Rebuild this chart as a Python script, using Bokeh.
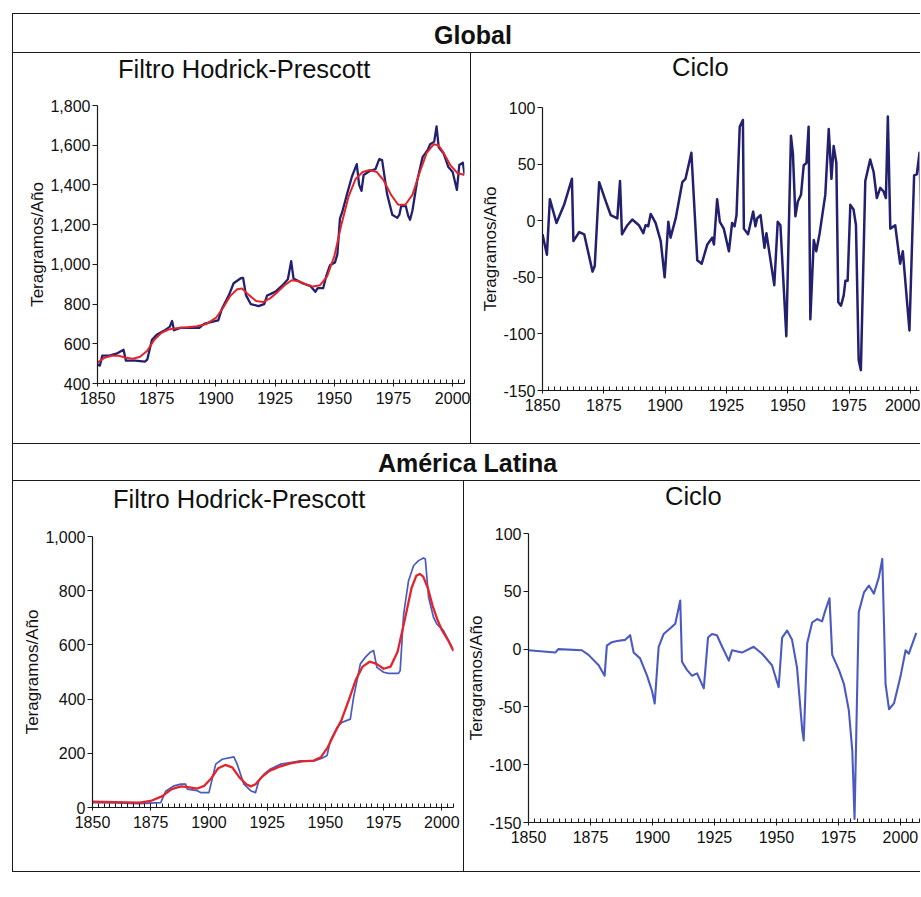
from bokeh.plotting import figure
from bokeh.models import Div, FixedTicker, NumeralTickFormatter, Range1d
from bokeh.layouts import column, row
from bokeh.embed import file_html
from bokeh.resources import INLINE

FONT = "Liberation Sans"

# ---------------- data ----------------
# Global, Hodrick-Prescott: observed series
gl_obs_year = [1850, 1851, 1852, 1855, 1858, 1861, 1862, 1866, 1870, 1871, 1873, 1875, 1878,
               1880.5, 1881.5, 1882.3, 1885, 1890, 1893, 1895, 1900, 1901, 1902.5, 1905.5,
               1907.5, 1910.5, 1911.5, 1912.7, 1914.7, 1918, 1920.4, 1921.6, 1923, 1925.4,
               1928.2, 1930.4, 1931.8, 1932.8, 1935, 1936.5, 1940, 1942, 1943, 1945.3, 1946.7,
               1948.2, 1950.3, 1951.3, 1952.4, 1953.4, 1955.3, 1957.4, 1959.5, 1960.5, 1961.5,
               1962.4, 1965, 1967.4, 1969, 1970.2, 1972.3, 1974.5, 1976.6, 1977.5, 1978.3,
               1980.2, 1981.2, 1982, 1983, 1985, 1987.3, 1989.4, 1990.5, 1992.2, 1993.2, 1994.1,
               1996.2, 1998.2, 2000, 2001.8, 2002.8, 2004.3, 2005]
gl_obs_val = [495, 490, 540, 540, 550, 570, 515, 515, 510, 520, 620, 645, 665,
              685, 715, 668, 680, 680, 680, 700, 715, 718, 775, 845,
              905, 930, 932, 845, 800, 790, 800, 843, 850, 865,
              895, 925, 1016, 928, 915, 905, 890, 862, 880, 880, 945,
              996, 1010, 1050, 1230, 1265, 1350, 1440, 1505, 1400, 1370,
              1450, 1470, 1480, 1530, 1525, 1355, 1250, 1234, 1250, 1295,
              1294, 1245, 1225, 1270, 1420, 1540, 1575, 1605, 1618, 1695, 1590,
              1558, 1490, 1465, 1375, 1500, 1512, 1455]
# Global, Hodrick-Prescott: trend
gl_trend_year = [1850, 1853, 1856, 1859, 1862, 1865, 1868, 1871, 1874, 1877, 1880, 1884, 1888,
                 1892, 1896, 1900, 1903, 1906, 1909, 1911, 1914, 1917, 1920, 1923, 1926, 1929,
                 1932, 1935, 1938, 1941, 1944, 1947, 1950, 1953, 1956, 1959, 1962, 1965, 1968,
                 1971, 1974, 1977, 1980, 1983, 1986, 1989, 1992, 1994, 1996, 1999, 2002, 2005]
gl_trend_val = [505, 530, 540, 540, 530, 525, 535, 565, 620, 655, 672, 680, 683,
                688, 700, 730, 780, 840, 875, 878, 845, 815, 810, 830, 860, 895,
                920, 915, 900, 888, 895, 940, 1040, 1200, 1340, 1430, 1465, 1475, 1465,
                1420, 1350, 1300, 1300, 1350, 1460, 1560, 1605, 1600, 1565, 1500, 1460, 1450]
# Global, cycle
gl_cyc_year = [1850, 1851.8, 1853, 1855.7, 1858.8, 1862, 1862.6, 1865, 1867, 1870.4, 1871.3,
               1873.1, 1875.8, 1877.8, 1880.5, 1881.6, 1882.4, 1884.6, 1886.6, 1889.3, 1891.1,
               1892, 1893.1, 1894.1, 1896.1, 1898.2, 1899.8, 1901.3, 1902.2, 1904.3, 1907,
               1908.3, 1910.7, 1913.1, 1914.9, 1917.2, 1919.2, 1919.9, 1921.2, 1922.3, 1923.9,
               1926, 1927.3, 1928.3, 1929.1, 1930.4, 1931.7, 1932.1, 1933.8, 1935.9, 1936.8,
               1937.5, 1938.9, 1940.5, 1941.3, 1942.2, 1944.5, 1945.9, 1947, 1949.4, 1951.3,
               1952.1, 1953.1, 1954.1, 1955.4, 1956.5, 1957.6, 1958.5, 1959.2, 1960.6, 1961.6,
               1963, 1965.3, 1966.7, 1967.8, 1968.7, 1969.8, 1970.6, 1971.7, 1972.8, 1973.5,
               1974.4, 1975.5, 1976.8, 1977.8, 1978.9, 1979.8, 1981.6, 1983.6, 1985, 1986.3,
               1987.7, 1989, 1990, 1990.8, 1991.8, 1993.8, 1995.8, 1996.9, 1999.6, 2001.5,
               2002.6, 2003.7, 2004.4]
gl_cyc_val = [-12, -30, 19, -2, 14, 37, -18, -10, -12, -45, -40,
              34, 17, 5, 2, 35, -12, -4, 1, -4, -11,
              -4, -5, 6, -2, -18, -50, -1, -15, 2, 34,
              37, 60, -35, -38, -21, -15, -21, 19, -1, -7,
              -27, -2, -5, 5, 83, 89, -7, -12, 8, -5,
              2, 5, -24, -11, -24, -57, -1, -4, -102, 75,
              59, 4, 17, 23, 49, 51, 83, -87, -17, -27,
              -11, 23, 81, 37, 66, 51, -72, -75, -66, -53,
              -53, 14, 10, -4, -123, -132, 35, 54, 43, 20,
              29, 26, 20, 92, -7, -4, -38, -27, -97, 40,
              41, 60, -4]
# América Latina, Hodrick-Prescott: observed series
la_obs_year = [1850, 1860, 1870, 1879.3, 1881.4, 1885, 1887.9, 1890, 1890.7, 1895, 1896.4, 1900,
               1902.9, 1905.7, 1910.7, 1912.1, 1915, 1917.9, 1920, 1921.4, 1923.6, 1926.4,
               1930.7, 1935, 1939.3, 1945, 1948.6, 1950.7, 1952.1, 1955, 1957.1, 1960.7, 1962.1,
               1965, 1967.1, 1969.3, 1970.7, 1972.1, 1975, 1977.1, 1981.4, 1982.1, 1983.6,
               1985.7, 1987.9, 1990, 1992.1, 1992.9, 1994.3, 1996.4, 1997.9, 2000.7, 2002.9, 2005]
la_obs_val = [18, 17, 14, 18, 60, 80, 86, 86, 68, 62, 55, 55,
              160, 178, 187, 160, 86, 62, 55, 98, 123, 142,
              160, 166, 172, 172, 182, 192, 246, 296, 314, 326, 406,
              530, 554, 573, 579, 517, 499, 495, 495, 505, 714,
              837, 893, 911, 921, 917, 776, 702, 677, 653, 616, 579]
# América Latina, Hodrick-Prescott: trend
la_trend_year = [1850, 1860, 1870, 1875, 1880, 1884, 1888, 1891, 1895, 1898, 1901, 1904, 1907,
                 1910, 1913, 1916, 1918, 1920, 1923, 1926, 1930, 1935, 1940, 1945, 1948, 1951,
                 1954, 1957, 1960, 1963, 1966, 1969, 1972, 1975, 1978, 1981, 1984, 1987, 1989,
                 1990.5, 1992, 1994, 1996, 1998, 2000, 2003, 2005]
la_trend_val = [22, 20, 18, 24, 42, 68, 78, 75, 70, 80, 108, 145, 157,
                148, 112, 86, 78, 86, 115, 135, 150, 163, 170, 173, 185, 222,
                275, 325, 395, 470, 520, 538, 530, 512, 520, 575, 690, 810, 855,
                862, 852, 810, 745, 695, 655, 612, 578]
# América Latina, cycle
la_cyc_year = [1850, 1860.8, 1862, 1871.5, 1874.2, 1878.3, 1880.7, 1881.6, 1883.6, 1885.7, 1889,
               1891, 1892.4, 1895, 1897.8, 1899.8, 1900.9, 1902.5, 1904.5, 1907.2, 1909.2,
               1911.2, 1911.9, 1913.9, 1915.9, 1918, 1920.7, 1922.4, 1924, 1926, 1928.1, 1930.8,
               1932.1, 1936.1, 1940.8, 1944.2, 1948.2, 1950.9, 1952.3, 1954.3, 1956.3, 1958.3,
               1960.4, 1961, 1962.4, 1964.4, 1966.4, 1968.4, 1969.8, 1971.4, 1972.5, 1975.2,
               1977.2, 1979.2, 1980.6, 1981.5, 1983.2, 1985.3, 1987.3, 1989.3, 1991.3, 1992.7,
               1994, 1995.4, 1997.4, 2000, 2002.1, 2003.4, 2006.4]
la_cyc_val = [-1, -3, 0, -1, -5, -14, -23, 3, 6, 7, 8,
              12, -3, -8, -23, -36, -47, 2, 13, 18, 22,
              42, -11, -18, -23, -21, -34, 10, 13, 12, 2, -10,
              -1, -3, 2, -4, -14, -33, 10, 16, 8, -16,
              -70, -79, 5, 23, 26, 24, 34, 44, -5, -18,
              -30, -53, -88, -147, 32, 49, 55, 48, 62, 78,
              -30, -52, -47, -24, -1, -4, 14]

x_major_ticks = [1850, 1875, 1900, 1925, 1950, 1975, 2000]
x_minor_ticks = [1850 + 2.5 * i for i in range(64)]
gl_hp_ticks = [400, 600, 800, 1000, 1200, 1400, 1600, 1800]
la_hp_ticks = [0, 200, 400, 600, 800, 1000]
cyc_ticks = [-150, -100, -50, 0, 50, 100]

GL_BLUE = "#22206f"
LA_BLUE = "#4b5ac2"
RED = "#e1252b"
BORDER = "#1a1a1a"
TITLE_H = 30


def panel(w, h, xr, yr, yticks, yfmt, mb):
    left, right, top, bottom = mb
    p = figure(width=w, height=h - TITLE_H, output_backend="svg", toolbar_location=None,
               x_range=Range1d(*xr), y_range=Range1d(*yr),
               min_border_left=left, min_border_right=right,
               min_border_top=top, min_border_bottom=bottom)
    p.outline_line_color = None
    p.grid.visible = False
    p.background_fill_color = "white"
    p.border_fill_color = "white"

    p.xaxis.ticker = FixedTicker(ticks=x_major_ticks, minor_ticks=x_minor_ticks)
    p.yaxis.ticker = FixedTicker(ticks=yticks, minor_ticks=[])
    p.xaxis.formatter = NumeralTickFormatter(format="0")
    p.yaxis.formatter = NumeralTickFormatter(format=yfmt)
    for ax in (p.xaxis, p.yaxis):
        ax.axis_line_color = BORDER
        ax.axis_line_width = 1.2
        ax.major_tick_line_color = BORDER
        ax.minor_tick_line_color = BORDER
        ax.major_tick_in = 0
        ax.major_label_text_font = FONT
        ax.major_label_text_font_size = "16px"
        ax.major_label_text_color = "#111111"
        ax.axis_label_text_font = FONT
        ax.axis_label_text_font_size = "17px"
        ax.axis_label_text_font_style = "normal"
        ax.axis_label_text_color = "#111111"
    p.xaxis.major_tick_out = 3
    p.xaxis.minor_tick_in = 4
    p.xaxis.minor_tick_out = 0
    p.xaxis.major_label_standoff = 5
    p.yaxis.major_tick_out = 5
    p.yaxis.minor_tick_line_color = None
    p.yaxis.major_label_standoff = 2
    p.yaxis.axis_label = "Teragramos/Año"
    p.yaxis.axis_label_standoff = 0
    return p


def title_div(text, w, left, top):
    html = ('<div style="padding-left:%dpx;padding-top:%dpx;font-family:\'Liberation Sans\',Arial,sans-serif;'
            'font-size:25.5px;line-height:26px;white-space:nowrap;color:#111;">%s</div>' % (left, top, text))
    return Div(text=html, width=w, height=TITLE_H, margin=0)


def hline(w):
    return Div(text="", width=w, height=1, margin=0, styles={"background-color": BORDER})


def vline(h):
    return Div(text="", width=1, height=h, margin=0, styles={"background-color": BORDER})


def spacer(w, h):
    return Div(text="", width=w, height=h, margin=0)


def header(text, w, h, pad_left, shift):
    html = ('<div style="width:%dpx;height:%dpx;line-height:%dpx;text-align:center;'
            'font-family:\'Liberation Sans\',Arial,sans-serif;font-weight:bold;font-size:25px;'
            'color:#111;padding-left:%dpx;box-sizing:border-box;position:relative;top:%dpx;">%s</div>'
            % (w, h, h, pad_left, shift, text))
    return Div(text=html, width=w, height=h, margin=0)


# Global panels
p1 = panel(457, 390, (1850, 2005), (400, 1800), gl_hp_ticks, "0,0", (84, 6, 22, 60))
p1.line(gl_obs_year, gl_obs_val, line_color=GL_BLUE, line_width=2.3, line_join="round")
p1.line(gl_trend_year, gl_trend_val, line_color=RED, line_width=2.0, line_join="round")

p2 = panel(449, 390, (1850, 2003.7), (-150, 100), cyc_ticks, "0", (71, 1, 24, 53))
p2.line(gl_cyc_year, gl_cyc_val, line_color=GL_BLUE, line_width=2.5, line_join="round")

# América Latina panels
p3 = panel(450, 390, (1850, 2005), (0, 1000), la_hp_ticks, "0,0", (79, 10, 25, 64))
p3.line(la_obs_year, la_obs_val, line_color=LA_BLUE, line_width=1.7, line_join="round")
p3.line(la_trend_year, la_trend_val, line_color=RED, line_width=2.3, line_join="round")

p4 = panel(456, 390, (1850, 2007.7), (-150, 100), cyc_ticks, "0", (64, 1, 22, 49))
p4.line(la_cyc_year, la_cyc_val, line_color=LA_BLUE, line_width=2.1, line_join="round")

inner = column(
    hline(908),
    row(vline(38), header("Global", 907, 38, 13, 2)),
    hline(908),
    row(vline(390),
        column(title_div("Filtro Hodrick-Prescott", 457, 105, 3), p1),
        vline(390),
        column(title_div("Ciclo", 449, 201, 1), p2)),
    hline(908),
    row(vline(36), header("América Latina", 907, 36, 2, 1)),
    hline(908),
    row(vline(390),
        column(title_div("Filtro Hodrick-Prescott", 450, 100, 5), p3),
        vline(390),
        column(title_div("Ciclo", 456, 201, 2), p4)),
    hline(908),
)

layout = column(spacer(920, 13), row(spacer(12, 859), inner))

open("out.html", "w").write(file_html(layout, INLINE, title="Filtro Hodrick-Prescott"))
